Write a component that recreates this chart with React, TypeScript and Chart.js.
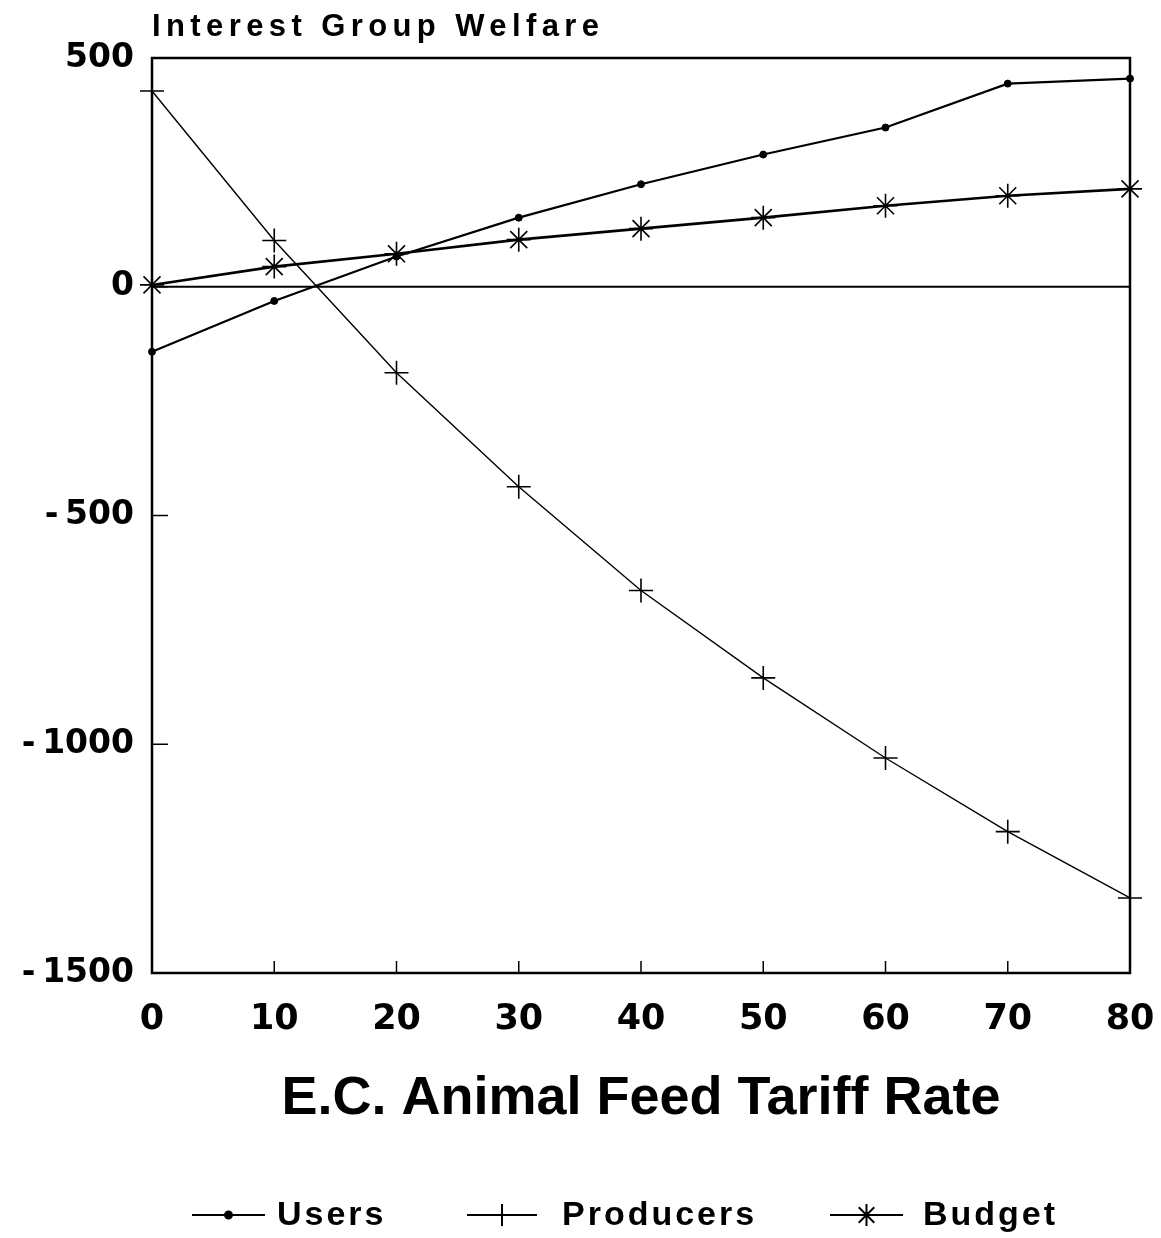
import React, { useEffect, useRef } from "react";
import { Chart, registerables } from "chart.js";
import { drawPoint } from "chart.js/helpers";

Chart.register(...registerables);

const tariffRates = [0, 10, 20, 30, 40, 50, 60, 70, 80];
const users = [-142, -31, 66, 151, 224, 289, 348, 444, 455];
const producers = [428, 101, -188, -437, -664, -855, -1030, -1191, -1336];
const budget = [4, 44, 72, 103, 127, 151, 177, 199, 214];
const yTicks = [500, 0, -500, -1000, -1500];
const seriesNames = ["Users", "Producers", "Budget"];
const yTitle = "Interest Group Welfare";
const xTitle = "E.C. Animal Feed Tariff Rate";

const W = 1161;
const H = 1238;

const framePlugin = {
  id: "frameAndExtras",
  afterDatasetsDraw(chart: any) {
    const { ctx, chartArea, scales } = chart;
    const { left, right, top, bottom } = chartArea;
    ctx.save();
    ctx.strokeStyle = "#000";
    ctx.lineWidth = 2.5;
    ctx.strokeRect(left, top, right - left, bottom - top);
    const y0 = scales.y.getPixelForValue(0);
    ctx.lineWidth = 2;
    ctx.beginPath();
    ctx.moveTo(left, y0);
    ctx.lineTo(right, y0);
    ctx.stroke();
    ctx.lineWidth = 1.5;
    scales.x.ticks.forEach((t: any) => {
      const x = scales.x.getPixelForValue(t.value);
      if (t.value === 0 || t.value === 80) return;
      ctx.beginPath();
      ctx.moveTo(x, bottom);
      ctx.lineTo(x, bottom - 12);
      ctx.stroke();
    });
    scales.y.ticks.forEach((t: any) => {
      const y = scales.y.getPixelForValue(t.value);
      if (t.value === 500 || t.value === -1500) return;
      ctx.beginPath();
      ctx.moveTo(left, y);
      ctx.lineTo(left + 16, y);
      ctx.stroke();
    });
    ctx.restore();
  },
  afterDraw(chart: any) {
    const { ctx, chartArea } = chart;
    ctx.save();
    ctx.fillStyle = "#000";
    ctx.font = "bold 31px 'Liberation Sans'";
    (ctx as any).letterSpacing = "5.4px";
    ctx.textAlign = "left";
    ctx.textBaseline = "alphabetic";
    ctx.fillText(yTitle, chartArea.left, 36);

    ctx.font = "bold 34px 'Liberation Sans'";
    (ctx as any).letterSpacing = "3px";
    ctx.textBaseline = "middle";
    const ly = 1215;
    const starts = [192, 467, 830];
    const lineLens = [73, 70, 73];
    const textGaps = [12, 25, 20];
    chart.data.datasets.forEach((ds: any, i: number) => {
      const x0 = starts[i];
      const lineLen = lineLens[i];
      ctx.strokeStyle = "#000";
      ctx.lineWidth = 2;
      ctx.beginPath();
      ctx.moveTo(x0, ly);
      ctx.lineTo(x0 + lineLen, ly);
      ctx.stroke();
      drawPoint(
        ctx,
        {
          pointStyle: ds.pointStyle,
          radius: ds.pointStyle === "circle" ? 3.5 : 11,
          rotation: 0,
          borderWidth: 1.2,
        } as any,
        x0 + lineLen / 2,
        ly
      );
      ctx.fillText(seriesNames[i], x0 + lineLen + textGaps[i], ly + 1);
    });
    ctx.restore();
  },
};

export default function App() {
  const ref = useRef<HTMLCanvasElement | null>(null);
  useEffect(() => {
    if (!ref.current) return;
    const mk = (arr: number[]) => tariffRates.map((x, i) => ({ x, y: arr[i] }));
    const chart = new Chart(ref.current, {
      type: "line",
      data: {
        datasets: [
          {
            label: seriesNames[0],
            data: mk(users),
            borderColor: "#000",
            backgroundColor: "#000",
            borderWidth: 2.2,
            pointStyle: "circle",
            pointRadius: 3.5,
            pointBorderWidth: 1,
            pointBackgroundColor: "#000",
            pointBorderColor: "#000",
            tension: 0,
            clip: false as any,
          },
          {
            label: seriesNames[1],
            data: mk(producers),
            borderColor: "#000",
            backgroundColor: "#000",
            borderWidth: 1.4,
            pointStyle: "cross",
            pointRadius: 12,
            pointBorderWidth: 1.6,
            pointBorderColor: "#000",
            tension: 0,
            clip: false as any,
          },
          {
            label: seriesNames[2],
            data: mk(budget),
            borderColor: "#000",
            backgroundColor: "#000",
            borderWidth: 2.6,
            pointStyle: "star",
            pointRadius: 12,
            pointBorderWidth: 1.6,
            pointBorderColor: "#000",
            tension: 0,
            clip: false as any,
          },
        ],
      },
      options: {
        responsive: false,
        animation: false,
        devicePixelRatio: 1,
        layout: { padding: { left: 0, right: 31, top: 58, bottom: 100 } },
        plugins: {
          legend: { display: false },
          tooltip: { enabled: false },
          title: { display: false },
        },
        scales: {
          x: {
            type: "linear",
            min: 0,
            max: 80,
            border: { display: false },
            grid: { display: false, drawTicks: false },
            ticks: {
              stepSize: 10,
              color: "#000",
              padding: 26,
              maxRotation: 0,
              font: { family: "'DejaVu Sans'", weight: "bold", size: 35 },
            },
            title: {
              display: true,
              text: xTitle,
              color: "#000",
              padding: { top: 0, bottom: 6 },
              font: { family: "'Liberation Sans'", size: 54, weight: "bold" },
            },
            afterFit: (scale: any) => {
              scale.height = H - 100 - 973;
              scale.paddingLeft = 0;
              scale.paddingRight = 0;
            },
          } as any,
          y: {
            type: "linear",
            min: -1500,
            max: 500,
            border: { display: false },
            grid: { display: false, drawTicks: false },
            afterBuildTicks: (scale: any) => {
              scale.ticks = yTicks.map((v) => ({ value: v }));
            },
            ticks: {
              color: "#000",
              padding: 18,
              font: { family: "'DejaVu Sans'", weight: "bold", size: 33 },
              callback: (v: any) => (v < 0 ? "-\u2009" + Math.abs(v) : String(v)),
            },
            afterFit: (scale: any) => {
              scale.width = 152;
              scale.paddingTop = 0;
              scale.paddingBottom = 0;
            },
          } as any,
        },
      },
      plugins: [framePlugin],
    });
    return () => chart.destroy();
  }, []);
  return (
    <div style={{ position: "absolute", left: 0, top: 0, width: W, height: H, background: "#fff" }}>
      <canvas ref={ref} width={W} height={H} style={{ width: W, height: H, display: "block" }} />
    </div>
  );
}
